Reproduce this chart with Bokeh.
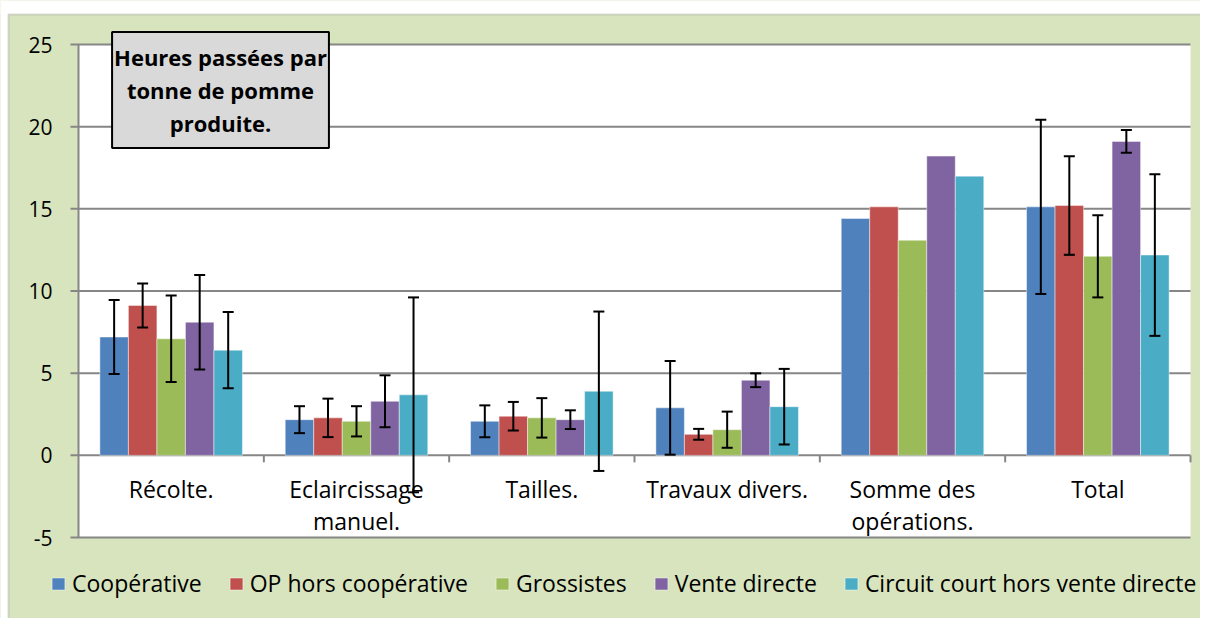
from bokeh.plotting import figure
from bokeh.models import (ColumnDataSource, Range1d, Whisker, TeeHead,
                          Legend, LegendItem, Label, BoxAnnotation)
from bokeh.transform import dodge
from bokeh.core.properties import value
from bokeh.embed import file_html
from bokeh.resources import INLINE

# ---------------- data ----------------
categories = ["Récolte.", "Eclaircissage manuel.", "Tailles.", "Travaux divers.",
              "Somme des opérations.", "Total"]
category_labels = ["Récolte.", "Eclaircissage\nmanuel.", "Tailles.", "Travaux divers.",
                   "Somme des\nopérations.", "Total"]
series_names = ["Coopérative", "OP hors coopérative", "Grossistes", "Vente directe",
                "Circuit court hors vente directe"]
cooperative = [7.2, 2.17, 2.07, 2.89, 14.41, 15.12]
op_hors_coop = [9.12, 2.28, 2.38, 1.28, 15.12, 15.2]
grossistes = [7.09, 2.07, 2.28, 1.56, 13.09, 12.11]
vente_directe = [8.1, 3.29, 2.17, 4.57, 18.21, 19.1]
circuit_court = [6.4, 3.68, 3.9, 2.96, 16.99, 12.19]
# error bar half-widths (None = no error bar)
cooperative_err = [2.25, 0.82, 0.97, 2.85, None, 5.3]
op_hors_coop_err = [1.34, 1.17, 0.87, 0.33, None, 3.0]
grossistes_err = [2.63, 0.92, 1.2, 1.1, None, 2.5]
vente_directe_err = [2.87, 1.58, 0.57, 0.42, None, 0.69]
circuit_court_err = [2.32, 5.93, 4.85, 2.3, None, 4.92]
y_ticks = [-5, 0, 5, 10, 15, 20, 25]
y_tick_labels = ["-5", "0", "5", "10", "15", "20", "25"]
title_text = "Heures passées par\ntonne de pomme\nproduite."

series_values = [cooperative, op_hors_coop, grossistes, vente_directe, circuit_court]
series_errs = [cooperative_err, op_hors_coop_err, grossistes_err, vente_directe_err, circuit_court_err]
colors = ["#4F81BD", "#C0504D", "#9BBB59", "#8064A2", "#4BACC6"]

FONT = "Open Sans"
BG = "#D7E4BD"
GRID = "#868686"

# ---------------- layout (pixels of the canvas) ----------------
W, H = 1200, 618
PL, PR, PT, PB = 78, 1190, 44, 537          # Excel plot area
ncat = len(categories)
y_lo, y_hi = y_ticks[0], y_ticks[-1]
XS = (PR - PL) / ncat                      # px per category
YS = (PB - PT) / (y_hi - y_lo)             # px per unit
x_start, x_end = -PL / XS, (W - PL) / XS
y_end = y_hi + PT / YS
y_start = y_lo - (H - PB) / YS


def dx(px):
    return x_start + px / XS


def dy(py):
    return y_end - py / YS


p = figure(x_range=Range1d(x_start, x_end), y_range=Range1d(y_start, y_end),
           width=W, height=H, output_backend="svg", toolbar_location=None,
           min_border=0, min_border_left=0, min_border_right=0, min_border_top=0,
           min_border_bottom=0, background_fill_color=BG, border_fill_color=BG)
p.outline_line_color = None
p.xaxis.visible = False
p.yaxis.visible = False
p.grid.visible = False

# white strips + grey chart border (left and top only)
p.add_layout(BoxAnnotation(top=y_end, bottom=dy(14), fill_color="white", fill_alpha=1,
                           line_color=None, level="underlay"))
p.add_layout(BoxAnnotation(left=x_start, right=dx(8), fill_color="white", fill_alpha=1,
                           line_color=None, level="underlay"))
p.add_layout(BoxAnnotation(left=dx(8), top=dy(14), right=x_end + 1, bottom=y_start - 1,
                           fill_alpha=0, line_color="#8C8C8C", line_width=2, level="underlay"))
# white plot area
p.add_layout(BoxAnnotation(left=0, right=ncat, bottom=y_lo, top=y_hi, fill_color="white",
                           fill_alpha=1, line_color=None, level="underlay"))

# horizontal gridlines (extended left to form the tick marks)
p.segment(x0=[dx(PL - 8)] * len(y_ticks), x1=[ncat] * len(y_ticks), y0=y_ticks, y1=y_ticks,
          line_color=GRID, line_width=2)
# value axis line
p.segment(x0=[0], x1=[0], y0=[y_lo], y1=[y_hi], line_color=GRID, line_width=2)
# value tick labels
p.text(x=[dx(52)] * len(y_ticks), y=y_ticks, text=y_tick_labels, text_align="right",
       text_baseline="middle", text_font=value(FONT), text_font_size="21px",
       text_color="black")

xc = [i + 0.5 for i in range(ncat)]
n = len(series_names)
bw = 1.0 / (n + 1.5)
legend_items = []
for i, (name, vals, errs, col) in enumerate(zip(series_names, series_values, series_errs, colors)):
    off = (i - (n - 1) / 2) * bw
    src = ColumnDataSource(dict(xc=xc, val=vals))
    r = p.vbar(x=dodge("xc", off), top="val", width=bw, source=src,
               fill_color=col, line_color="white", line_alpha=0.45, line_width=1)
    legend_items.append(LegendItem(label=name, renderers=[r]))
    ex = [c for c, e in zip(xc, errs) if e is not None]
    up = [v + e for v, e in zip(vals, errs) if e is not None]
    lo = [v - e for v, e in zip(vals, errs) if e is not None]
    esrc = ColumnDataSource(dict(xc=ex, upper=up, lower=lo))
    w = Whisker(base=dodge("xc", off), upper="upper", lower="lower",
                source=esrc, line_color="black", line_width=2, level="annotation",
                upper_head=TeeHead(size=11, line_width=2, line_color="black"),
                lower_head=TeeHead(size=11, line_width=2, line_color="black"))
    p.add_layout(w)

# category boundary tick marks below the zero line
bounds = list(range(1, ncat + 1))
p.segment(x0=bounds, x1=bounds, y0=[0] * ncat, y1=[-7 / YS] * ncat,
          line_color=GRID, line_width=2)

# category labels below the zero line
p.text(x=xc, y=[dy(472)] * ncat, text=category_labels,
       text_align="center", text_baseline="top", text_font=value(FONT),
       text_font_size="23px", text_color="black", text_line_height=1.0)

legend = Legend(items=legend_items, orientation="horizontal", location=(50, 19),
                label_text_font=FONT, label_text_font_size="23px", label_text_color="black",
                glyph_width=16, glyph_height=15, label_standoff=6, spacing=26,
                padding=0, margin=0, border_line_color=None, background_fill_alpha=0)
p.add_layout(legend, "center")

title = Label(x=dx(220), y=dy(89.5), text=title_text,
              text_align="center", text_baseline="middle", text_font=FONT,
              text_font_style="bold", text_font_size="22px", text_color="black",
              text_line_height=1.1, background_fill_color="#D9D9D9",
              border_line_color="black", border_line_width=2, padding=(2, 10))
p.add_layout(title)

open("out.html", "w").write(file_html(p, INLINE))
